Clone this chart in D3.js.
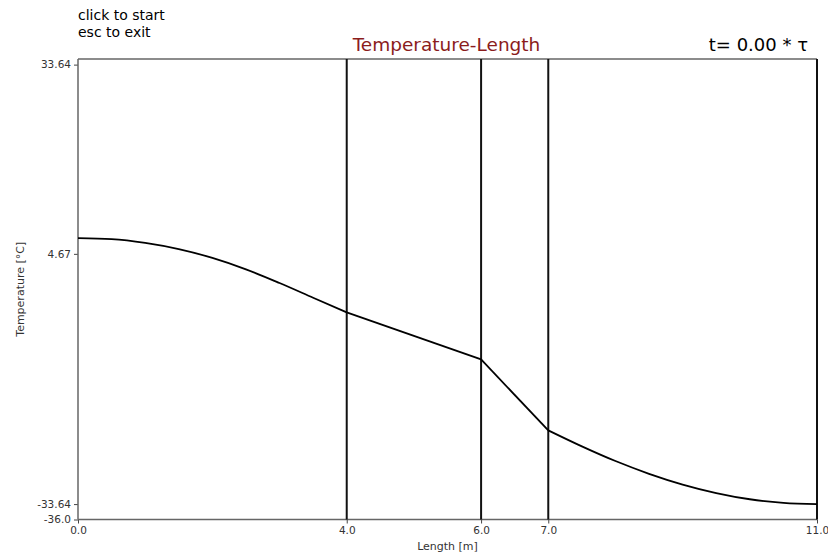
<!DOCTYPE html>
<html>
<head>
<meta charset="utf-8">
<script src="https://cdn.jsdelivr.net/npm/d3@7"></script>
<style>
body { margin: 0; background: #fff; }
svg { display: block; font-family: "DejaVu Sans", sans-serif; }
</style>
</head>
<body>
<svg id="chart" width="828" height="555"></svg>
<script>
// ---- data ----
const layerBounds = [4.0, 6.0, 7.0, 11.0];
const xTicks = [0.0, 4.0, 6.0, 7.0, 11.0];
const yTicks = [33.64, 4.67, -33.64, -36.0];
const yTickLabels = ["33.64", "4.67", "-33.64", "-36.0"];
const yDomain = [-36.0, 34.5];
const xDomain = [0, 11];

const seg1X = [0, 0.5, 1.0, 1.5, 2.0, 2.5, 3.0, 3.5, 4.0];
const seg1T = [7.07, 6.92, 6.35, 5.4, 4.05, 2.3, 0.2, -2.05, -4.3];
const seg2X = [4.0, 6.0];
const seg2T = [-4.3, -11.5];
const seg3X = [6.0, 7.0];
const seg3T = [-11.5, -22.35];
const seg4X = [7.0, 7.5, 8.0, 8.5, 9.0, 9.5, 10.0, 10.5, 11.0];
const seg4T = [-22.35, -24.8, -27.05, -29.0, -30.65, -31.95, -32.9, -33.45, -33.64];

// ---- layout ----
const svg = d3.select("#chart");
const L = 78, R = 817, T = 59, B = 519.5;
const x = d3.scaleLinear().domain(xDomain).range([L, R]);
const y = d3.scaleLinear().domain(yDomain).range([B, T]);

// top-left instructions
svg.append("text").attr("x", 78).attr("y", 20).attr("font-size", 14).attr("fill", "#000").text("click to start");
svg.append("text").attr("x", 78).attr("y", 37).attr("font-size", 14).attr("fill", "#000").text("esc to exit");

// title
svg.append("text").attr("x", (L + R) / 2 - 1).attr("y", 51).attr("text-anchor", "middle")
  .attr("font-size", 18.5).attr("fill", "#8b1c1c").text("Temperature-Length");
svg.append("text").attr("x", 808).attr("y", 51).attr("text-anchor", "end")
  .attr("font-size", 18).attr("fill", "#000").text("t= 0.00 * τ");

// axes
const xAxis = d3.axisBottom(x).tickValues(xTicks).tickFormat(d => d.toFixed(1)).tickSize(4);
const yAxis = d3.axisLeft(y).tickValues(yTicks).tickFormat((d, i) => yTickLabels[i]).tickSize(4);

const gx = svg.append("g").attr("transform", `translate(0,${B})`).call(xAxis);
const gy = svg.append("g").attr("transform", `translate(${L},0)`).call(yAxis);
[gx, gy].forEach(g => {
  g.select(".domain").remove();
  g.selectAll("line").attr("stroke", "#444");
  g.selectAll("text").attr("font-size", 10.5).attr("fill", "#333").attr("font-family", "DejaVu Sans, sans-serif");
});

// frame (left, bottom, top)
svg.append("line").attr("x1", L).attr("x2", L).attr("y1", T).attr("y2", B).attr("stroke", "#666").attr("stroke-width", 1.5);
svg.append("line").attr("x1", L).attr("x2", R).attr("y1", B).attr("y2", B).attr("stroke", "#666").attr("stroke-width", 1.5);
svg.append("line").attr("x1", L).attr("x2", R).attr("y1", T).attr("y2", T).attr("stroke", "#666").attr("stroke-width", 1.5);

// layer boundaries
svg.append("g").selectAll("line").data(layerBounds).join("line")
  .attr("x1", d => x(d)).attr("x2", d => x(d)).attr("y1", T).attr("y2", B)
  .attr("stroke", "#111").attr("stroke-width", 2);

// axis labels
svg.append("text").attr("x", (L + R) / 2).attr("y", 550).attr("text-anchor", "middle")
  .attr("font-size", 11).attr("fill", "#333").text("Length [m]");
svg.append("text").attr("transform", `translate(24,${(T + B) / 2}) rotate(-90)`).attr("text-anchor", "middle")
  .attr("font-size", 11).attr("fill", "#333").text("Temperature [°C]");

// curve
const segs = [[seg1X, seg1T], [seg2X, seg2T], [seg3X, seg3T], [seg4X, seg4T]];
const line = d3.line().x(d => x(d[0])).y(d => y(d[1])).curve(d3.curveMonotoneX);
svg.append("g").selectAll("path").data(segs.map(([xs, ts]) => xs.map((v, i) => [v, ts[i]]))).join("path")
  .attr("d", line).attr("fill", "none").attr("stroke", "#000").attr("stroke-width", 1.8);
</script>
</body>
</html>
